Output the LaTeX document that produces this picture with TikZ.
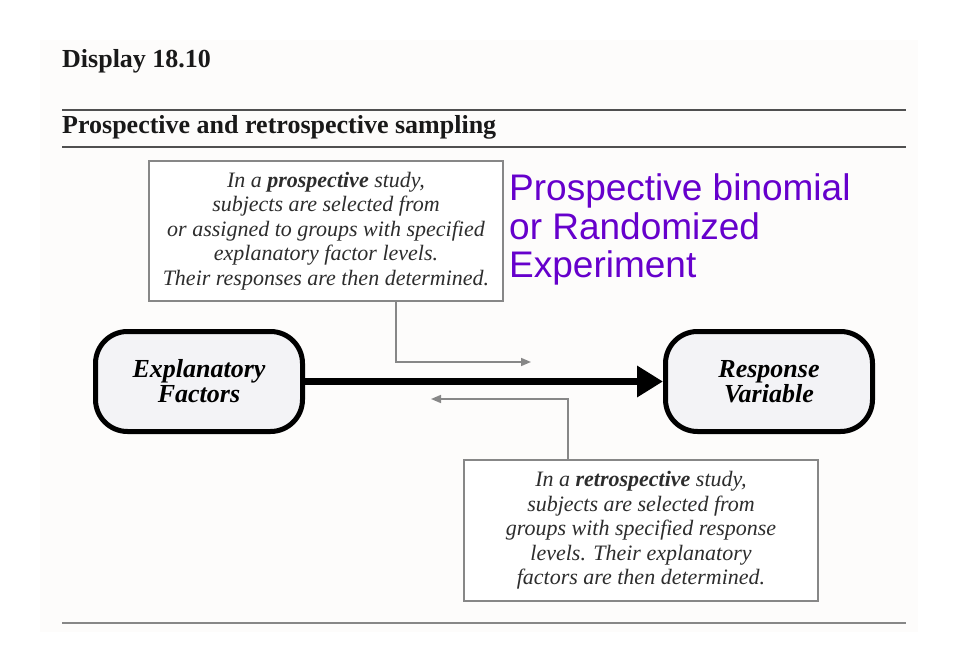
\documentclass[tikz,border=0pt]{standalone}
\usepackage{fontspec}
\setmainfont{Liberation Serif}
\newfontfamily\purplefont{Liberation Sans}
\usetikzlibrary{arrows.meta,calc}
\definecolor{purp}{RGB}{102,0,204}
\definecolor{boxgrey}{RGB}{135,135,135}
\definecolor{rulegrey}{RGB}{80,80,80}
\definecolor{boxfill}{RGB}{243,243,246}
\definecolor{txt}{RGB}{45,45,45}
\definecolor{pagebg}{RGB}{253,252,251}
\begin{document}
\begin{tikzpicture}[x=1pt,y=-1pt,
  hdr/.style={anchor=base west, inner sep=0pt, font=\fontsize{26}{30}\selectfont\bfseries, text=black!90},
  rulel/.style={draw=rulegrey, line width=1.2pt},
  notebox/.style={draw=boxgrey, line width=1.4pt, fill=white, align=center, inner sep=0pt,
     minimum width=354pt, minimum height=140pt, text=txt,
     font=\fontsize{22}{24.6}\selectfont\itshape},
  varbox/.style={draw=black, line width=5pt, fill=boxfill, rounded corners=32pt, align=center,
     minimum width=207pt, minimum height=100pt, inner sep=0pt,
     font=\fontsize{26}{25}\selectfont\bfseries\itshape},
  thin/.style={draw=boxgrey, line width=1.6pt, -{Triangle[length=10pt,width=8pt]}},
  thick/.style={draw=black, line width=7pt, -{Triangle[length=26pt,width=30pt]}}
]
\useasboundingbox (0,0) rectangle (961,668);
\fill[white] (0,0) rectangle (961,668);
\fill[pagebg] (40,40) rectangle (918,632);

\node[hdr] (disp) at (62,68) {Display 18.10};
\draw[rulel] (62,110) -- (906,110);
\node[hdr] (title) at (62,134) {Prospective and retrospective sampling};
\draw[rulel] (62,147) -- (906,147);
\draw[rulel, draw=boxgrey] (62,623) -- (906,623);

\node[notebox] (pro) at (326,231) {In a \textbf{prospective} study,\\ subjects are selected from\\ or assigned to groups with specified\\ explanatory factor levels.\\ Their responses are then determined.};

\node[notebox, minimum height=141pt] (retro) at (641,530.5) {In a \textbf{retrospective} study,\\ subjects are selected from\\ groups with specified response\\ levels. Their explanatory\\ factors are then determined.};

\node[anchor=north west, inner sep=0pt, align=left, text=purp,
  font=\purplefont\fontsize{37}{38.5}\selectfont] (exp) at (509,173.5)
  {Prospective binomial\\ or Randomized\\ Experiment};

\node[varbox] (ef) at (199,381.5) {Explanatory\\ Factors};
\node[varbox] (rv) at (769,381.5) {Response\\ Variable};

\draw[thick] (ef.east) -- (rv.west);

\coordinate (proend) at (531,362);
\coordinate (retend) at (431,399);
\draw[thin] ($(pro.south)+(70,0)$) |- (proend);
\draw[thin] ($(retro.north)+(-73,0)$) |- (retend);
\end{tikzpicture}
\end{document}
